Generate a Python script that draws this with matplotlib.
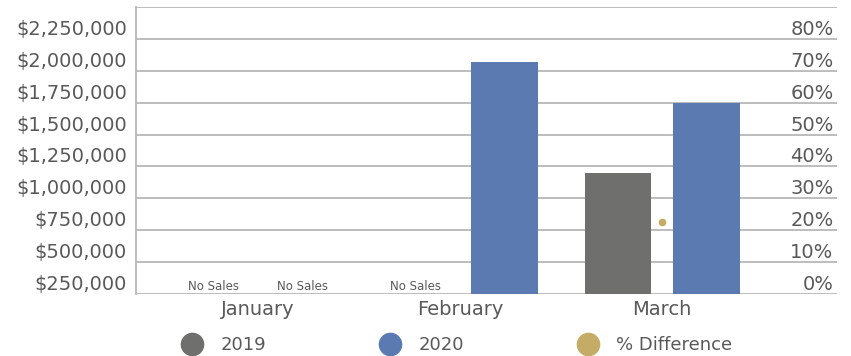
import numpy as np
import matplotlib
matplotlib.use("Agg")
import matplotlib.pyplot as plt
from matplotlib.lines import Line2D
from matplotlib.ticker import FuncFormatter

months = ["January", "February", "March"]
sales_2019 = [0, 0, 1195000]
sales_2020 = [0, 2067000, 1745000]
pct_diff = [np.nan, np.nan, 0.226]

c2019 = "#6f706e"
c2020 = "#5b7ab2"
cdiff = "#c4ac66"
txt = "#595959"
grid = "#b8b8b8"

fig = plt.figure(figsize=(8.51, 3.56), dpi=100)
ax = fig.add_axes([136 / 851, 62 / 356, 701 / 851, 287 / 356])

x = np.arange(len(months))
w = 0.327
off = 0.22

ax.bar(x - off, sales_2019, w, color=c2019, zorder=3)
ax.bar(x + off, sales_2020, w, color=c2020, zorder=3)

# "No Sales" note for empty months
for xi, v19, v20 in zip(x, sales_2019, sales_2020):
    for pos, v in ((xi - off, v19), (xi + off, v20)):
        if v == 0:
            ax.annotate("No Sales", (pos, 250000), xytext=(0, 3),
                        textcoords="offset points", ha="center",
                        va="baseline", fontsize=8.5, color=txt)

ax.set_xlim(-0.604, 2.866)
ax.set_ylim(250000, 2500000)
ax.set_yticks(np.arange(250000, 2500001, 250000))
ax.yaxis.set_major_formatter(
    FuncFormatter(lambda v, p: "" if v >= 2500000 else f"${v:,.0f}"))
ax.grid(axis="y", color=grid, linewidth=1.3, zorder=0)
ax.set_xticks(x)
ax.set_xticklabels(months)
ax.tick_params(axis="x", length=0, pad=4, labelsize=14, colors=txt)
ax.tick_params(axis="y", length=0, pad=6.5, labelsize=14, colors=txt)
for lbl in ax.get_yticklabels():
    lbl.set_va("bottom")
for s in ("top", "right", "bottom"):
    ax.spines[s].set_visible(False)
ax.spines["left"].set_color(grid)
ax.spines["left"].set_linewidth(1.3)

ax2 = ax.twinx()
ax2.plot(x, pct_diff, "o", color=cdiff, markersize=4.5, zorder=4)
ax2.set_ylim(0, 0.9)
ax2.set_yticks(np.arange(0, 0.91, 0.1))
ax2.yaxis.set_major_formatter(
    FuncFormatter(lambda v, p: "" if v > 0.85 else f"{v * 100:.0f}%"))
ax2.tick_params(axis="y", length=0, pad=-2.5, labelsize=14, colors=txt)
for lbl in ax2.get_yticklabels():
    lbl.set_ha("right")
    lbl.set_va("bottom")
for s in ax2.spines.values():
    s.set_visible(False)

handles = [
    Line2D([], [], marker="o", ls="", color=c2019, markersize=16),
    Line2D([], [], marker="o", ls="", color=c2020, markersize=16),
    Line2D([], [], marker="o", ls="", color=cdiff, markersize=16),
]
leg = fig.legend(handles, ["2019", "2020", "% Difference"], ncol=3,
                 loc="center", bbox_to_anchor=(457 / 851, 11 / 356),
                 frameon=False, fontsize=13, handlelength=1.2,
                 handletextpad=0.95, columnspacing=6.3, borderpad=0,
                 borderaxespad=0)
for t in leg.get_texts():
    t.set_color(txt)

fig.savefig("out.png", dpi=100)
